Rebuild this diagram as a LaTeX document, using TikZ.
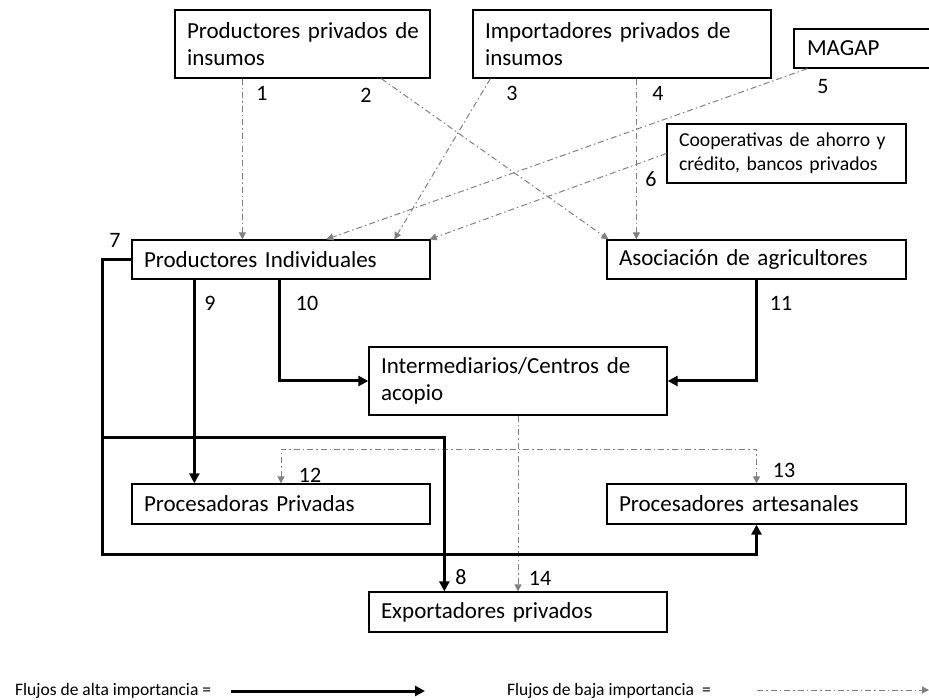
\documentclass[tikz,border=0pt]{standalone}
\usepackage{fontspec}
\setmainfont{Carlito}
\usetikzlibrary{arrows.meta}
\definecolor{lowgray}{RGB}{128,128,128}
\tikzset{
  box/.style={draw=black, line width=1.3pt, minimum width=#1, align=left, anchor=center,
              inner xsep=12pt, inner ysep=0pt, text width=#1-24pt,
              font=\fontsize{23}{27}\selectfont},
  low/.style={draw=lowgray, line width=1pt, dash pattern=on 6pt off 3pt on 1.5pt off 3pt,
              -{Triangle[length=7pt,width=7pt,fill=lowgray]}},
  high/.style={draw=black, line width=3pt, -{Triangle[length=10pt,width=10pt]}},
  num/.style={font=\fontsize{22}{26}\selectfont, inner sep=0pt},
  legend/.style={font=\fontsize{17.5}{21}\selectfont, inner sep=0pt, anchor=base west}
}
\begin{document}
\begin{tikzpicture}[x=1pt,y=-1pt]
\useasboundingbox (0,0) rectangle (929,700);
% boxes
\node[box=255pt, minimum height=68pt] (ppi) at (302.5,44) {\mbox{Productores privados de}\\insumos};
\node[box=298pt, minimum height=68pt] (ipi) at (622,44) {\mbox{Importadores privados de}\\insumos};
\node[box=140pt, minimum height=39pt, inner xsep=13pt] (magap) at (865,48.5) {MAGAP};
\node[box=239pt, minimum height=59pt, font=\fontsize{19.7}{23.5}\selectfont] (coop) at (786.5,153.5) {\mbox{Cooperativas de ahorro y}\\\mbox{crédito, bancos privados}};
\node[box=298pt, minimum height=39pt] (pind) at (281,259.5) {Productores Individuales};
\node[box=299pt, minimum height=39pt] (asoc) at (756.5,259.5) {Asociación de agricultores};
\node[box=298pt, minimum height=68pt] (inter) at (518,381) {\mbox{Intermediarios/Centros de}\\acopio};
\node[box=298pt, minimum height=40pt] (pp) at (281,504) {Procesadoras Privadas};
\node[box=299pt, minimum height=40pt] (pa) at (756.5,504) {Procesadores artesanales};
\node[box=298pt, minimum height=40pt] (exp) at (518,612) {Exportadores privados};
% low importance flows
\draw[low] ([xshift=68pt]ppi.south west) -- ([xshift=111pt]pind.north west);
\draw[low] ([xshift=207pt]ppi.south west) -- ([xshift=2pt]asoc.north west);
\draw[low] ([xshift=18pt]ipi.south west) -- ([xshift=263pt]pind.north west);
\draw[low] ([xshift=164pt]ipi.south west) -- ([xshift=30pt]asoc.north west);
\draw[low] ([xshift=14pt]magap.south west) -- ([xshift=195pt]pind.north west);
\draw[low] (coop.west) -- ([xshift=-1pt]pind.north east);
\coordinate (k12) at (518,449);
\draw[low] (inter.south) -- (exp.north);
\draw[low, {Triangle[length=7pt,width=7pt,fill=lowgray]}-{Triangle[length=7pt,width=7pt,fill=lowgray]}] (pp.north) |- (k12) -| (pa.north);
% high importance flows
\coordinate (k7) at (102,554);
\coordinate (k8) at (102,437);
\draw[high] (pind.west) -| (k7) -| (pa.south);
\draw[high] (k8) -| ([xshift=76pt]exp.north west);
\draw[high] ([xshift=63pt]pind.south west) -- ([xshift=63pt]pp.north west);
\draw[high] ([xshift=148pt]pind.south west) |- (inter.west);
\draw[high] (asoc.south) |- (inter.east);
% numbers
\node[num] (n1) at (262,93) {1};
\node[num] (n2) at (366,95) {2};
\node[num] (n3) at (512,93) {3};
\node[num] (n4) at (658,93) {4};
\node[num] (n5) at (823,87) {5};
\node[num] (n6) at (651,179) {6};
\node[num] (n7) at (115,240) {7};
\node[num] (n8) at (461,577) {8};
\node[num] (n9) at (210,303) {9};
\node[num] (n10) at (307,303) {10};
\node[num] (n11) at (781,303) {11};
\node[num] (n12) at (310,475) {12};
\node[num] (n13) at (784,470) {13};
\node[num] (n14) at (540,578) {14};
% legend
\node[legend] (lg1) at (15,695) {Flujos de alta importancia =};
\coordinate (la1) at (231,691);
\coordinate (la2) at (425,691);
\draw[high] (la1) -- (la2);
\node[legend] (lg2) at (507,695) {Flujos de baja importancia~ =};
\coordinate (lb1) at (757,690);
\coordinate (lb2) at (929,690);
\draw[low] (lb1) -- (lb2);
\end{tikzpicture}
\end{document}
